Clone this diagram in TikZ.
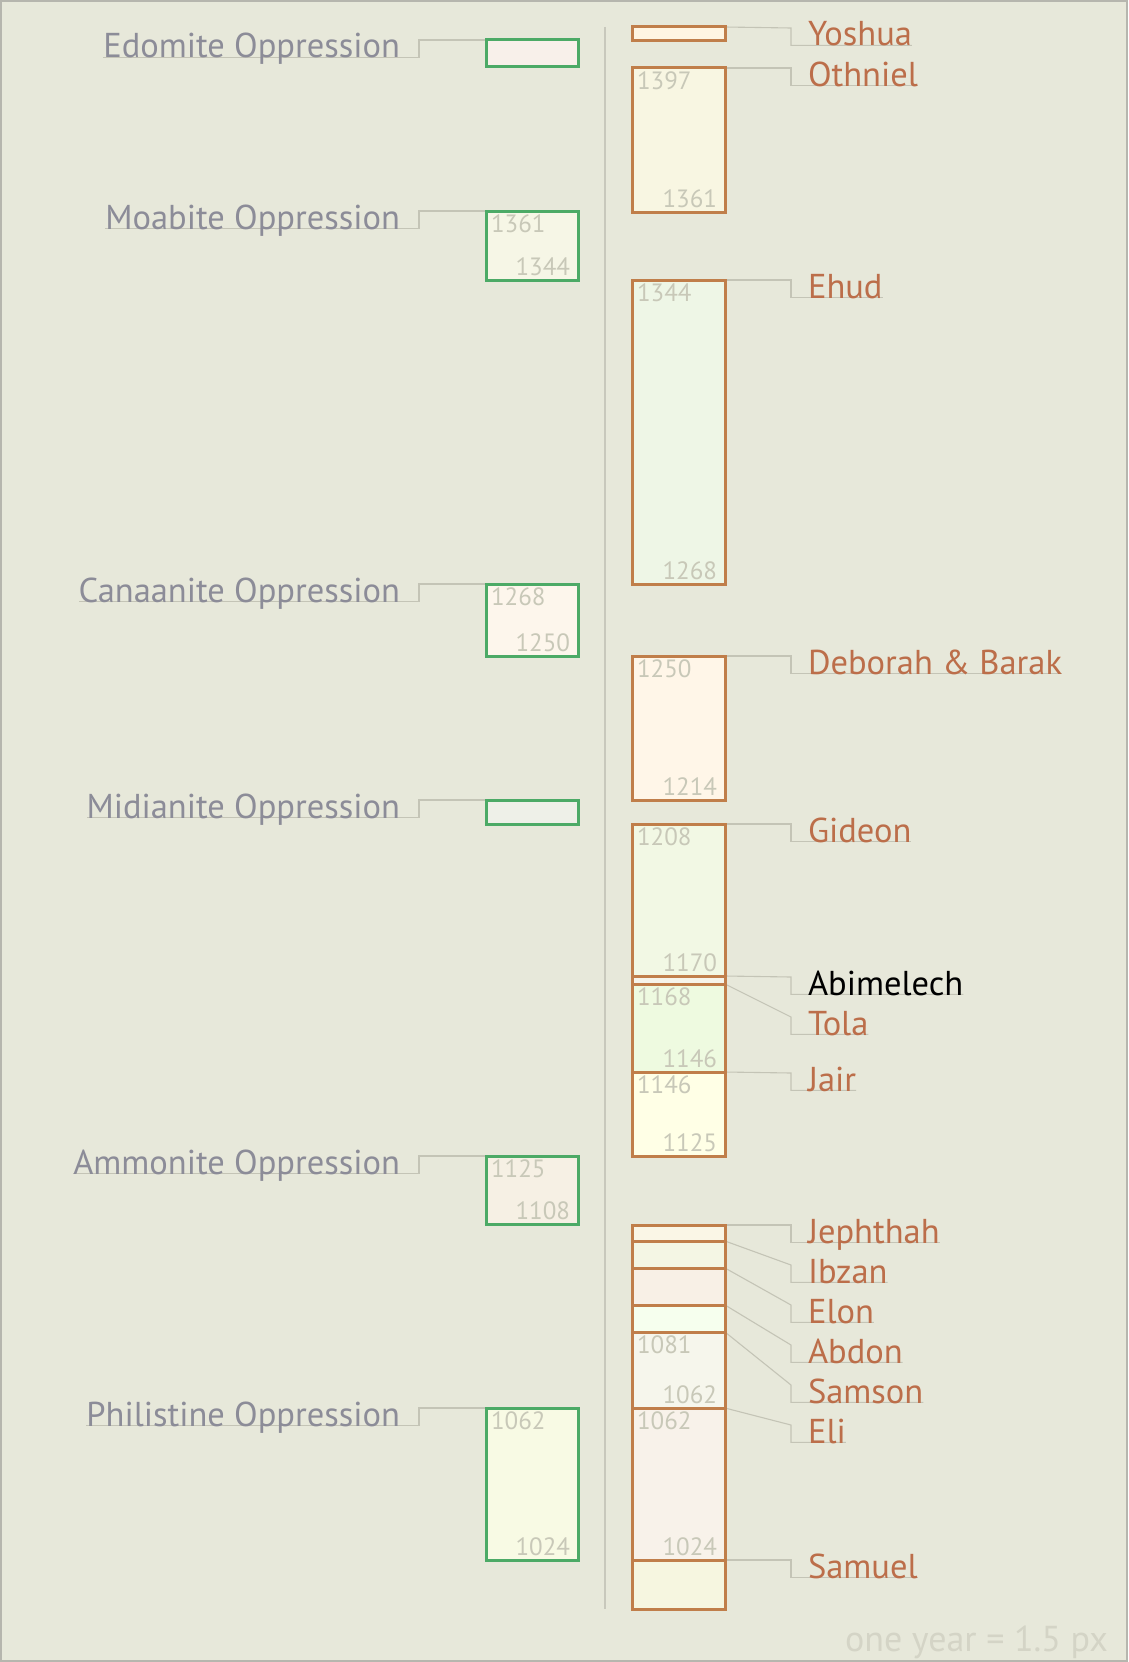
\documentclass[tikz,border=0pt]{standalone}
\usepackage{fontspec}
\setmainfont{PT Sans}
\newfontfamily\labfamily{PT Sans}
\newcommand\labfont{\labfamily\fontsize{34.5pt}{40pt}\selectfont}
\newcommand\numfont{\labfamily\fontsize{25pt}{28pt}\selectfont}
\newcommand\footfont{\labfamily\fontsize{36pt}{40pt}\selectfont}
\definecolor{bgcol}{HTML}{E7E8DA}
\definecolor{framecol}{HTML}{B6B6AE}
\definecolor{rbcol}{HTML}{C07E4A}
\definecolor{lbcol}{HTML}{4CAA66}
\definecolor{conncol}{HTML}{C4C4B6}
\definecolor{axiscol}{HTML}{C8C8BC}
\definecolor{numcol}{HTML}{C8C8B8}
\definecolor{rlabcol}{HTML}{BC6E4A}
\definecolor{llabcol}{HTML}{8C8C98}
\definecolor{footcol}{HTML}{D4D4C6}
\pgfdeclarelayer{back}
\pgfdeclarelayer{lines}
\pgfsetlayers{back,lines,main}
\tikzset{
  rbox/.style={draw=rbcol, line width=3pt, inner sep=0pt, outer sep=0pt, minimum width=93pt, anchor=north west},
  lbox/.style={draw=lbcol, line width=3pt, inner sep=0pt, outer sep=0pt, minimum width=92pt, anchor=north west},
  num/.style={font=\numfont, text=numcol, inner sep=0pt, outer sep=0pt},
  rlab/.style={font=\labfont, text=rlabcol, inner sep=0pt, outer sep=0pt, anchor=base west},
  llab/.style={font=\labfont, text=llabcol, inner sep=0pt, outer sep=0pt, anchor=base east},
  conn/.style={draw=conncol, line width=1.1pt},
}
% right-hand judge: name, top, bottom, fill hex, label, baseline
\newcommand\rjudge[6]{%
  \definecolor{fill#1}{HTML}{#4}%
  \node[rbox, fill=fill#1, minimum height={(#3-#2)*1pt}] (#1) at (632,#2) {};
  \node[rlab] (#1L) at (808,#6) {#5};
  \begin{pgfonlayer}{lines}
  \draw[conn] (#1.north east) -- ([shift={(-17,-18)}]#1L.base west) -- ([shift={(-17,-0.6)}]#1L.base west) -- ([yshift=0.6pt]#1L.base east);
  \end{pgfonlayer}
}
% left-hand oppression: name, top, bottom, fill hex, label, baseline
\newcommand\loppr[6]{%
  \definecolor{fill#1}{HTML}{#4}%
  \node[lbox, fill=fill#1, minimum height={(#3-#2)*1pt}] (#1) at (486,#2) {};
  \node[llab] (#1L) at (400,#6) {#5};
  \begin{pgfonlayer}{lines}
  \draw[conn] (#1.north west) -- ([shift={(19,-18)}]#1L.base east) -- ([shift={(19,-0.6)}]#1L.base east) -- ([yshift=0.6pt]#1L.base west);
  \end{pgfonlayer}
}
% year numbers: box name, top year, bottom year
\newcommand\yrs[3]{%
  \node[num, anchor=north west] (#1T) at ([shift={(5,4)}]#1.north west) {#2};
  \node[num, anchor=base east] (#1B) at ([shift={(-8,-5)}]#1.south east) {#3};
}
\begin{document}
\begin{tikzpicture}[x=1pt,y=-1pt]
\useasboundingbox (0,0) rectangle (1128,1662);
\begin{pgfonlayer}{back}
\fill[bgcol] (0,0) rectangle (1128,1662);
\draw[framecol, line width=2pt] (1,1) rectangle (1127,1661);
\coordinate (axtop) at (605,27);
\coordinate (axbot) at (605,1609);
\draw[axiscol, line width=1.5pt] (axtop) -- (axbot);
\end{pgfonlayer}

% judges (right)
\rjudge{yoshua}{27}{41}{FFF5E2}{Yoshua}{46}
\rjudge{othniel}{68}{212}{F8F6E2}{Othniel}{86}
\yrs{othniel}{1397}{1361}
\rjudge{ehud}{280}{584}{EEF6E6}{Ehud}{298}
\yrs{ehud}{1344}{1268}
\rjudge{deborah}{656}{800}{FFF6E8}{Deborah \& Barak}{674}
\yrs{deborah}{1250}{1214}
\rjudge{gideon}{824}{976}{F2F8E4}{Gideon}{842}
\yrs{gideon}{1208}{1170}
\rjudge{abimelech}{976}{984}{F6F4EA}{\color{black}Abimelech}{995}
\rjudge{tola}{984}{1072}{EEFAE0}{Tola}{1035}
\yrs{tola}{1168}{1146}
\rjudge{jair}{1072}{1156}{FFFFE6}{Jair}{1091}
\yrs{jair}{1146}{1125}
\rjudge{jephthah}{1225}{1241}{FAF6E6}{Jephthah}{1243}
\rjudge{ibzan}{1241}{1268}{F4F6E4}{Ibzan}{1283}
\rjudge{elon}{1268}{1305}{F8F0E6}{Elon}{1323}
\rjudge{abdon}{1305}{1332}{F6FFEE}{Abdon}{1363}
\rjudge{samson}{1332}{1408}{F6F6EC}{Samson}{1403}
\yrs{samson}{1081}{1062}
\rjudge{eli}{1408}{1560}{F8F2EA}{Eli}{1443}
\yrs{eli}{1062}{1024}
\rjudge{samuel}{1560}{1609}{F6F6E0}{Samuel}{1578}

% oppressions (left)
\loppr{edomite}{40}{67}{F8F0EA}{Edomite Oppression}{58}
\loppr{moabite}{211}{280}{F6F6E6}{Moabite Oppression}{229}
\yrs{moabite}{1361}{1344}
\loppr{canaanite}{584}{656}{FDF6EC}{Canaanite Oppression}{602}
\yrs{canaanite}{1268}{1250}
\loppr{midianite}{800}{824}{EEF0E8}{Midianite Oppression}{818}
\loppr{ammonite}{1156}{1224}{F6F0E4}{Ammonite Oppression}{1174}
\yrs{ammonite}{1125}{1108}
\loppr{philistine}{1408}{1560}{F8FAE4}{Philistine Oppression}{1426}
\yrs{philistine}{1062}{1024}

\node[font=\footfont, text=footcol, inner sep=0pt, anchor=base east] (foot) at (1108,1651) {one year = 1.5 px};
\end{tikzpicture}
\end{document}
